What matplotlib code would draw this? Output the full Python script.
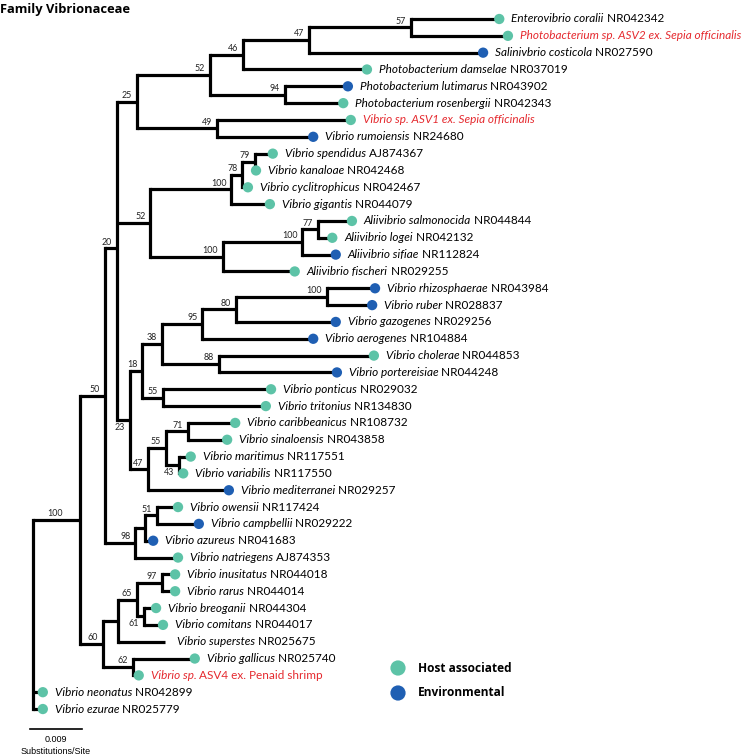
import matplotlib
matplotlib.use("Agg")
import matplotlib.pyplot as plt
from matplotlib.collections import LineCollection

plt.rcParams["font.family"] = ["Lato", "DejaVu Sans"]

# ---------------- data ----------------
leaf_species = [
    "Enterovibrio coralii", "Photobacterium sp. ASV2 ex. Sepia officinalis", "Salinivbrio costicola",
    "Photobacterium damselae", "Photobacterium lutimarus", "Photobacterium rosenbergii",
    "Vibrio sp. ASV1 ex. Sepia officinalis", "Vibrio rumoiensis", "Vibrio spendidus",
    "Vibrio kanaloae", "Vibrio cyclitrophicus", "Vibrio gigantis", "Aliivibrio salmonocida",
    "Aliivibrio logei", "Aliivibrio sifiae", "Aliivibrio fischeri", "Vibrio rhizosphaerae",
    "Vibrio ruber", "Vibrio gazogenes", "Vibrio aerogenes", "Vibrio cholerae",
    "Vibrio portereisiae", "Vibrio ponticus", "Vibrio tritonius", "Vibrio caribbeanicus",
    "Vibrio sinaloensis", "Vibrio maritimus", "Vibrio variabilis", "Vibrio mediterranei",
    "Vibrio owensii", "Vibrio campbellii", "Vibrio azureus", "Vibrio natriegens",
    "Vibrio inusitatus", "Vibrio rarus", "Vibrio breoganii", "Vibrio comitans",
    "Vibrio superstes", "Vibrio gallicus", "Vibrio sp.", "Vibrio neonatus", "Vibrio ezurae",
]
leaf_accession = [
    "NR042342", "", "NR027590", "NR037019", "NR043902", "NR042343", "", "NR24680",
    "AJ874367", "NR042468", "NR042467", "NR044079", "NR044844", "NR042132", "NR112824",
    "NR029255", "NR043984", "NR028837", "NR029256", "NR104884", "NR044853", "NR044248",
    "NR029032", "NR134830", "NR108732", "NR043858", "NR117551", "NR117550", "NR029257",
    "NR117424", "NR029222", "NR041683", "AJ874353", "NR044018", "NR044014", "NR044304",
    "NR044017", "NR025675", "NR025740", "ASV4 ex. Penaid shrimp", "NR042899", "NR025779",
]
# distance from root (substitutions/site)
leaf_depth = [
    0.0807, 0.0822, 0.0779, 0.0578, 0.0545, 0.0537, 0.0550, 0.0485, 0.0415, 0.0386,
    0.0372, 0.0410, 0.0552, 0.0518, 0.0524, 0.0453, 0.0592, 0.0587, 0.0524, 0.0485,
    0.0590, 0.0526, 0.0412, 0.0403, 0.0350, 0.0336, 0.0273, 0.0260, 0.0339, 0.0251,
    0.0287, 0.0208, 0.0251, 0.0246, 0.0246, 0.0213, 0.0225, 0.0228, 0.0280, 0.0183,
    0.0017, 0.0017,
]
# H = host associated, E = environmental, "" = no marker
leaf_habitat = [
    "H", "H", "E", "H", "E", "H", "H", "E", "H", "H", "H", "H", "H", "H", "E", "H",
    "E", "E", "E", "E", "H", "E", "H", "H", "H", "H", "H", "H", "E", "H", "E", "E",
    "H", "H", "H", "H", "H", "", "H", "H", "H", "H",
]
leaf_highlight = [i in (1, 6, 39) for i in range(len(leaf_species))]

# internal nodes: id -> (depth, bootstrap, children, label below?)
nodes = {
    "root":  (0.0,    None,  ["n100", 40, 41], False),
    "n100":  (0.00813, "100", ["n50", "n60"], False),
    "n50":   (0.01246, "50",  ["n20", "n98"], False),
    "n20":   (0.01454, "20",  ["n25", "n52b", "n23"], False),
    "n25":   (0.0180, "25",  ["n52a", "n49"], False),
    "n52a":  (0.0306, "52",  ["n46", "n94"], False),
    "n46":   (0.0363, "46",  ["n47a", 3], False),
    "n47a":  (0.0478, "47",  ["n57", 2], False),
    "n57":   (0.0654, "57",  [0, 1], False),
    "n94":   (0.0436, "94",  [4, 5], False),
    "n49":   (0.0318, "49",  [6, 7], False),
    "n52b":  (0.0203, "52",  ["n100a", "n100b"], False),
    "n100a": (0.0343, "100", ["n78", 11], False),
    "n78":   (0.0362, "78",  ["n79", 10], False),
    "n79":   (0.0384, "79",  [8, 9], False),
    "n100b": (0.0329, "100", ["n100d", 15], False),
    "n100d": (0.0466, "100", ["n77", 14], False),
    "n77":   (0.0493, "77",  [12, 13], False),
    "n23":   (0.0168, "23",  ["n18", "n47b"], True),
    "n18":   (0.0189, "18",  ["n38", "n55a"], False),
    "n38":   (0.0223, "38",  ["n95", "n88"], False),
    "n95":   (0.0293, "95",  ["n80", 19], False),
    "n80":   (0.0351, "80",  ["n100c", 18], False),
    "n100c": (0.0509, "100", [16, 17], False),
    "n88":   (0.0322, "88",  [20, 21], False),
    "n55a":  (0.0225, "55",  [22, 23], False),
    "n47b":  (0.0199, "47",  ["n55b", 28], False),
    "n55b":  (0.0230, "55",  ["n71", "n43"], False),
    "n71":   (0.0268, "71",  [24, 25], False),
    "n43":   (0.0253, "43",  [26, 27], True),
    "n98":   (0.0177, "98",  ["naz", 32], False),
    "naz":   (0.0194, None,  ["n51", 31], False),
    "n51":   (0.0215, "51",  [29, 30], False),
    "n60":   (0.0121, "60",  ["nsup", "n62"], False),
    "nsup":  (0.0147, None,  ["n65", 37], False),
    "n65":   (0.0180, "65",  ["n97", "n61"], False),
    "n97":   (0.0223, "97",  [33, 34], False),
    "n61":   (0.0192, "61",  [35, 36], True),
    "n62":   (0.0173, "62",  [38, 39], False),
}
# extra horizontal shift (points) for a few support labels
label_shift = {"n100": -9.0}

scale_value = 0.009
legend_labels = ["Host associated", "Environmental"]
title = "Family Vibrionaceae"

# ---------------- style ----------------
W, H = 750, 755
PX = 0.009 / 52.0       # substitutions per pixel
ROOT_PX = 33
Y0, DY = 19.0, 16.83
TEAL = "#5dc3a7"
BLUE = "#1f5fb3"
RED = "#e52a2f"
colors = {"H": TEAL, "E": BLUE}
FS = 8.5

fig = plt.figure(figsize=(W / 100, H / 100), dpi=100)
ax = fig.add_axes([0, 0, 1, 1])
ax.axis("off")
ax.set_xlim(-ROOT_PX * PX, (W - ROOT_PX) * PX)
ax.set_ylim((H - Y0) / DY, -Y0 / DY)

def fx(px):
    return px / W
def fy(py):
    return 1 - py / H

# positions
pos = {}
def get_pos(c):
    if isinstance(c, int):
        return leaf_depth[c], float(c)
    if c in pos:
        return pos[c]
    d, _, ch, _ = nodes[c]
    ys = [get_pos(k)[1] for k in ch]
    pos[c] = (d, sum(ys) / len(ys))
    return pos[c]

vsegs, hsegs = [], []
for nid, (d, sup, ch, below) in nodes.items():
    x, y = get_pos(nid)
    cys = [get_pos(k)[1] for k in ch]
    vsegs.append([(x, min(cys)), (x, max(cys))])
    for k in ch:
        cx, cy = get_pos(k)
        hsegs.append([(x, cy), (cx, cy)])

ax.add_collection(LineCollection(hsegs, colors="black", linewidths=2.3, capstyle="butt", zorder=2))
ax.add_collection(LineCollection(vsegs, colors="black", linewidths=2.3, capstyle="projecting", zorder=2))

# bootstrap labels
for nid, (d, sup, ch, below) in nodes.items():
    if sup is None:
        continue
    x, y = get_pos(nid)
    dx = -3.5 + label_shift.get(nid, 0.0)
    if below:
        ax.annotate(sup, xy=(x, y), xytext=(dx, -2.0), textcoords="offset points",
                    ha="right", va="top", fontsize=6.4, color="#222222", zorder=4)
    else:
        ax.annotate(sup, xy=(x, y), xytext=(dx, 1.2), textcoords="offset points",
                    ha="right", va="bottom", fontsize=6.4, color="#222222", zorder=4)

# tip markers
for i in range(len(leaf_species)):
    if leaf_habitat[i]:
        ax.scatter([leaf_depth[i]], [i], s=55, color=colors[leaf_habitat[i]],
                   edgecolors="none", zorder=3)

# tip labels
for i in range(len(leaf_species)):
    col = RED if leaf_highlight[i] else "black"
    t1 = ax.annotate(leaf_species[i], xy=(leaf_depth[i], i), xytext=(8.6, 0),
                     textcoords="offset points", ha="left", va="center",
                     style="italic", fontsize=FS, color=col)
    if leaf_accession[i]:
        ax.annotate(" " + leaf_accession[i], xy=(1, 0), xycoords=t1, ha="left",
                    va="bottom", fontsize=FS, color=col)

# scale bar
sb_x0 = (30 - ROOT_PX) * PX
sb_y = (729 - Y0) / DY
ax.plot([sb_x0, sb_x0 + scale_value], [sb_y, sb_y], color="black", lw=1.2)
ax.text(fx(56), fy(740), f"{scale_value}", transform=ax.transAxes, ha="center",
        va="center", fontsize=6.5, family="Liberation Sans")
ax.text(fx(56), fy(751), "Substitutions/Site", transform=ax.transAxes, ha="center",
        va="center", fontsize=6.5, family="Liberation Sans")

# legend
for k, (lab, c) in enumerate(zip(legend_labels, [TEAL, BLUE])):
    py = 668 + k * 25
    ax.scatter([fx(398)], [fy(py)], s=120, color=c, edgecolors="none",
               transform=ax.transAxes, zorder=3)
    ax.text(fx(418), fy(py), lab, transform=ax.transAxes, ha="left", va="center",
            fontsize=8.6, fontweight="bold", family="Open Sans")

# title
ax.text(fx(0), fy(9), title, transform=ax.transAxes, ha="left", va="center",
        fontsize=9.3, fontweight="bold", family="Open Sans")

fig.savefig("out.png", dpi=100)
